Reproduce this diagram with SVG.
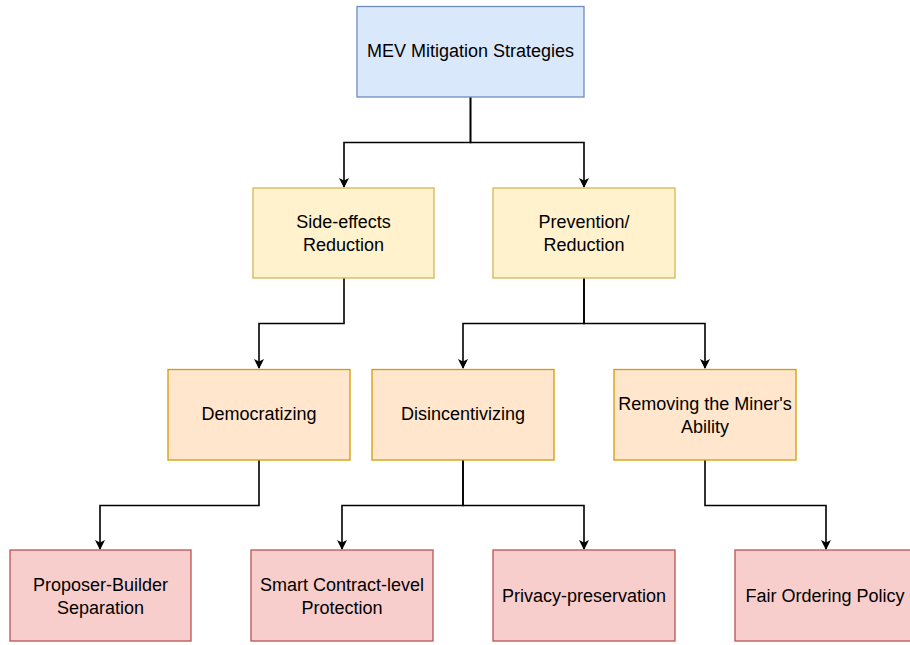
<svg xmlns="http://www.w3.org/2000/svg" width="910" height="645" viewBox="0 0 910 645">
  <defs>
    <marker id="arrow" viewBox="0 0 10 10" refX="9" refY="5" markerWidth="10" markerHeight="10" markerUnits="userSpaceOnUse" orient="auto">
      <path d="M0,0 L10,5 L0,10 L2.5,5 Z" fill="#000"/>
    </marker>
  </defs>
  <style>
    text { font-family: "Liberation Sans", Arial, Helvetica, sans-serif; font-size: 18px; fill: #000; text-anchor: middle; }
    .blue { fill: #dae8fc; stroke: #6c8ebf; stroke-width: 1.3; }
    .yellow { fill: #fff2cc; stroke: #d6b656; stroke-width: 1.3; }
    .orange { fill: #ffe6cc; stroke: #d79b00; stroke-width: 1.3; }
    .red { fill: #f8cecc; stroke: #b85450; stroke-width: 1.3; }
    .edge { fill: none; stroke: #000; stroke-width: 1.6; marker-end: url(#arrow); }
  </style>
  <rect width="910" height="645" fill="#fff"/>

  <g id="connectors">
    <path class="edge" d="M470.5,97 V142.5 H344 V187"/>
    <path class="edge" d="M470.5,97 V142.5 H584 V187"/>
    <path class="edge" d="M344,278 V323.5 H259 V368"/>
    <path class="edge" d="M584,278 V323.5 H463 V368"/>
    <path class="edge" d="M584,278 V323.5 H705 V368"/>
    <path class="edge" d="M259,460 V505.5 H100 V549"/>
    <path class="edge" d="M463,460 V505.5 H342 V549"/>
    <path class="edge" d="M463,460 V505.5 H584 V549"/>
    <path class="edge" d="M705,460 V505.5 H826 V549"/>
  </g>

  <g id="root">
    <rect class="blue" x="357" y="6.5" width="227" height="90.5"/>
    <text x="470.5" y="57">MEV Mitigation Strategies</text>
  </g>

  <g id="side-effects">
    <rect class="yellow" x="253" y="188" width="181" height="90"/>
    <text x="343.5" y="228">Side-effects</text>
    <text x="343.5" y="251">Reduction</text>
  </g>
  <g id="prevention">
    <rect class="yellow" x="493" y="188" width="182" height="90"/>
    <text x="584" y="228">Prevention/</text>
    <text x="584" y="251">Reduction</text>
  </g>

  <g id="democratizing">
    <rect class="orange" x="168" y="369.5" width="182" height="90.5"/>
    <text x="259" y="420">Democratizing</text>
  </g>
  <g id="disincentivizing">
    <rect class="orange" x="372" y="369.5" width="182" height="90.5"/>
    <text x="463" y="420">Disincentivizing</text>
  </g>
  <g id="removing">
    <rect class="orange" x="614" y="369.5" width="182" height="90.5"/>
    <text x="705" y="410">Removing the Miner's</text>
    <text x="705" y="433">Ability</text>
  </g>

  <g id="pbs">
    <rect class="red" x="10" y="550" width="181" height="91"/>
    <text x="100.5" y="591">Proposer-Builder</text>
    <text x="100.5" y="614">Separation</text>
  </g>
  <g id="smart-contract">
    <rect class="red" x="251" y="550" width="182" height="91"/>
    <text x="342" y="591">Smart Contract-level</text>
    <text x="342" y="614">Protection</text>
  </g>
  <g id="privacy">
    <rect class="red" x="493" y="550" width="182" height="91"/>
    <text x="584" y="602">Privacy-preservation</text>
  </g>
  <g id="fair-ordering">
    <rect class="red" x="735" y="550" width="182" height="91"/>
    <text x="825" y="602">Fair Ordering Policy</text>
  </g>
</svg>
